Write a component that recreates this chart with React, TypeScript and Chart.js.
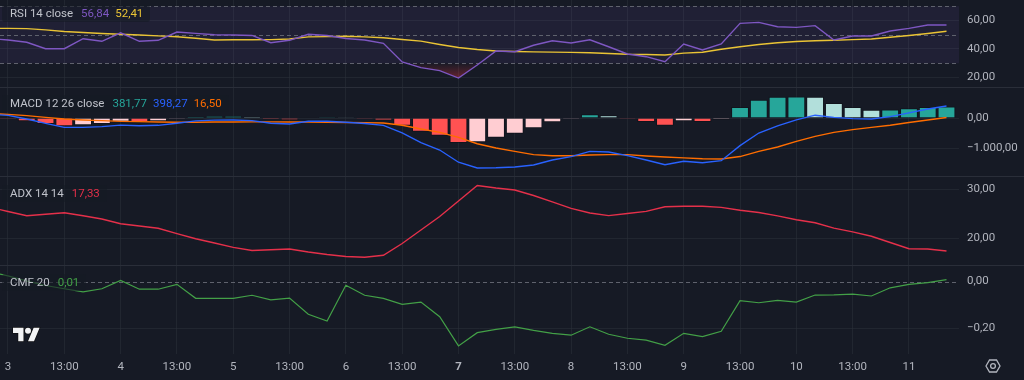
import React, { useEffect, useRef } from 'react';
import { Chart, registerables } from 'chart.js';
Chart.register(...registerables);

// ---------- data (bar index -1 .. 50, 4h bars) ----------
const BAR_START = -1;
const TIME_TICKS = [0, 3, 6, 9, 12, 15, 18, 21, 24, 27, 30, 33, 36, 39, 42, 45, 48];
const TIME_LABELS = ['3', '13:00', '4', '13:00', '5', '13:00', '6', '13:00', '7', '13:00', '8', '13:00', '9', '13:00', '10', '13:00', '11'];
const BOLD_TIME_LABEL = '7';

const RSI = [47.4, 46.3, 44.7, 40.2, 40.2, 47.2, 45.4, 51.4, 45.4, 46.1, 51.9, 51.0, 50.0, 49.8, 49.5, 44.4, 46.1, 50.3, 49.5, 47.4, 46.3, 44.0, 30.9, 26.9, 24.8, 19.6, 28.8, 38.6, 38.1, 42.6, 45.8, 44.2, 46.5, 41.6, 36.5, 34.6, 31.1, 43.5, 39.3, 43.5, 58.0, 58.7, 55.6, 55.2, 56.4, 46.3, 49.1, 49.1, 52.6, 54.5, 56.8, 56.84];
const RSI_MA = [54.5, 54.5, 54.3, 53.4, 52.3, 51.6, 50.9, 50.3, 49.8, 49.2, 48.6, 47.5, 46.3, 46.5, 46.5, 46.6, 47.0, 48.5, 48.7, 49.0, 48.5, 47.9, 46.7, 45.5, 43.2, 41.1, 39.6, 38.6, 38.2, 38.0, 37.8, 37.6, 37.4, 36.8, 36.3, 36.1, 35.8, 37.1, 37.7, 39.8, 41.6, 43.2, 44.4, 45.3, 45.8, 46.1, 46.6, 47.0, 48.2, 49.5, 50.9, 52.41];

const MACD_HIST = [-20, -33, -111, -200, -278, -244, -200, -125, -135, -111, -33, 44, 65, 67, 44, -44, -67, 25, 30, 8, -30, -78, -256, -456, -589, -830, -810, -660, -522, -344, -144, -33, 122, 89, -33, -133, -256, -111, -133, -56, 365, 611, 705, 715, 705, 500, 367, 278, 285, 322, 367, 381.77];
const MACD_LINE = [125, 89, -33, -178, -311, -311, -289, -236, -257, -244, -173, -96, -70, -65, -86, -174, -202, -110, -110, -140, -185, -245, -496, -821, -1067, -1474, -1667, -1660, -1633, -1566, -1400, -1289, -1111, -1133, -1255, -1400, -1556, -1441, -1489, -1423, -920, -500, -262, -63, 94, 22, -22, -33, 45, 172, 302, 398.27];
const MACD_SIGNAL = [145, 122, 78, 22, -33, -67, -89, -111, -122, -133, -140, -140, -135, -132, -130, -130, -135, -135, -140, -148, -155, -167, -240, -365, -478, -644, -857, -1000, -1111, -1222, -1256, -1256, -1233, -1222, -1222, -1267, -1300, -1330, -1356, -1367, -1285, -1111, -967, -778, -611, -478, -389, -311, -240, -150, -65, 16.5];

const ADX = [26.37, 25.44, 24.58, 24.89, 25.20, 24.56, 23.90, 22.94, 22.46, 22.01, 20.90, 19.86, 18.97, 18.09, 17.43, 17.58, 17.74, 17.13, 16.61, 16.20, 16.04, 16.45, 18.87, 21.64, 24.41, 27.60, 30.78, 30.27, 29.86, 28.73, 27.43, 26.10, 25.13, 24.60, 25.03, 25.46, 26.41, 26.51, 26.51, 26.30, 25.69, 25.24, 24.56, 23.76, 23.14, 22.03, 21.25, 20.37, 19.08, 17.80, 17.74, 17.33];

const CMF = [0.041, 0.024, 0.002, -0.017, -0.031, -0.044, -0.031, 0.005, -0.033, -0.033, -0.012, -0.072, -0.072, -0.072, -0.059, -0.079, -0.071, -0.140, -0.169, -0.016, -0.059, -0.072, -0.098, -0.088, -0.151, -0.276, -0.219, -0.205, -0.194, -0.209, -0.222, -0.230, -0.194, -0.226, -0.243, -0.251, -0.273, -0.222, -0.236, -0.213, -0.082, -0.091, -0.081, -0.088, -0.058, -0.057, -0.054, -0.062, -0.027, -0.012, -0.005, 0.008];

// ---------- scales ----------
const X_MIN = -0.426;
const X_MAX = 50.666;
const RSI_MIN = 13.33, RSI_MAX = 74.39, RSI_TICKS = [20, 40, 60];
const RSI_BANDS = [70, 50, 30];
const RSI_UPPER = 70, RSI_LOWER = 30, OVERSOLD_END = 18;
const MACD_MIN = -1933, MACD_MAX = 1000, MACD_TICKS = [0, -1000];
const ADX_MIN = 14.46, ADX_MAX = 32.53, ADX_TICKS = [20, 30];
const CMF_MIN = -0.3105, CMF_MAX = 0.0664, CMF_TICKS = [0, -0.2], CMF_ZERO = 0;

// ---------- style ----------
const BG = '#161A25';
const GRID = 'rgba(42,46,57,0.6)';
const SEP = '#2A2E39';
const TEXT = '#B2B5BE';
const TITLE = '#C0C3CB';
const BAND_LINE = '#5F626D';
const PURPLE = '#7E57C2';
const YELLOW = '#EAC435';
const TEAL = '#26A69A';
const BLUE = '#2962FF';
const ORANGE = '#FF6D00';
const RED = '#E5304A';
const GREEN = '#43A047';
const HIST_UP_GROW = '#26A69A', HIST_UP_FALL = '#B2DFDB', HIST_DN_GROW = '#FFCDD2', HIST_DN_FALL = '#FF5252';
const FONT_FAMILY = 'Roboto, "Noto Sans", sans-serif';
const FONT_SIZE = 11.5;
const AXIS_W = 65;

function fmt(v: number, d = 2): string {
  const neg = v < 0 && Math.abs(v) >= Math.pow(10, -d) / 2;
  const s = Math.abs(v).toFixed(d);
  const [i, f] = s.split('.');
  const ig = i.replace(/\B(?=(\d{3})+(?!\d))/g, '.');
  return (neg ? '\u2212' : '') + ig + (f ? ',' + f : '');
}

const pts = (arr: number[]) => arr.map((y, i) => ({ x: i + BAR_START, y }));
const last = (arr: number[]) => arr[arr.length - 1];

function xAxis(showLabels: boolean): any {
  return {
    type: 'linear',
    min: X_MIN,
    max: X_MAX,
    offset: false,
    grid: { color: GRID, drawTicks: false, offset: false },
    border: { display: false },
    afterBuildTicks: (s: any) => { s.ticks = TIME_TICKS.map((v) => ({ value: v })); },
    afterFit: (s: any) => { s.height = showLabels ? 26 : 0; s.paddingLeft = 0; s.paddingRight = 0; },
    ticks: {
      display: showLabels,
      autoSkip: false,
      maxRotation: 0,
      minRotation: 0,
      padding: 6,
      color: TEXT,
      font: (c: any) => ({
        family: FONT_FAMILY,
        size: FONT_SIZE,
        weight: c.tick && TIME_LABELS[TIME_TICKS.indexOf(c.tick.value)] === BOLD_TIME_LABEL ? 'bold' : 'normal',
      }),
      callback: (_v: any, i: number) => TIME_LABELS[i],
    },
  };
}

function yAxis(min: number, max: number, ticks: number[], gridColor?: any): any {
  return {
    position: 'right',
    min,
    max,
    grid: { color: gridColor || GRID, drawTicks: false },
    border: { display: false },
    afterBuildTicks: (s: any) => { s.ticks = ticks.map((v) => ({ value: v })); },
    afterFit: (s: any) => { s.width = AXIS_W; s.paddingTop = 0; s.paddingBottom = 0; },
    ticks: {
      padding: 8,
      color: TEXT,
      font: { family: FONT_FAMILY, size: FONT_SIZE },
      callback: (v: any) => fmt(Number(v)),
    },
  };
}

function baseOptions(min: number, max: number, ticks: number[], showTime: boolean, gridColor?: any): any {
  return {
    responsive: false,
    maintainAspectRatio: false,
    animation: false,
    devicePixelRatio: 1,
    events: [],
    layout: { padding: 0, autoPadding: false },
    plugins: { legend: { display: false }, tooltip: { enabled: false } },
    scales: { x: xAxis(showTime), y: yAxis(min, max, ticks, gridColor) },
  };
}

const lineDs = (data: number[], color: string, width = 1.4, order = 0): any => ({
  type: 'line',
  data: pts(data),
  borderColor: color,
  borderWidth: width,
  pointRadius: 0,
  tension: 0,
  fill: false,
  order,
});

function hLinePlugin(id: string, values: number[], band?: [number, number]): any {
  return {
    id,
    beforeDatasetsDraw(chart: any) {
      const { ctx, chartArea: a, scales } = chart;
      const y = scales.y;
      ctx.save();
      if (band) {
        const t = y.getPixelForValue(band[0]);
        const b = y.getPixelForValue(band[1]);
        ctx.fillStyle = 'rgba(126,87,194,0.1)';
        ctx.fillRect(a.left, t, a.right - a.left, b - t);
      }
      ctx.strokeStyle = BAND_LINE;
      ctx.lineWidth = 1;
      ctx.setLineDash([4, 3]);
      for (const v of values) {
        const yy = Math.round(y.getPixelForValue(v)) + 0.5;
        ctx.beginPath();
        ctx.moveTo(a.left, yy);
        ctx.lineTo(a.right, yy);
        ctx.stroke();
      }
      ctx.restore();
    },
  };
}

function histColors(h: number[]): string[] {
  return h.map((v, i) => {
    const p = i > 0 ? h[i - 1] : v;
    if (v >= 0) return v >= p ? HIST_UP_GROW : HIST_UP_FALL;
    return v < p ? HIST_DN_FALL : HIST_DN_GROW;
  });
}

function rsiConfig(): any {
  const rsi = lineDs(RSI, PURPLE, 1.4, 0);
  rsi.fill = { target: { value: RSI_LOWER }, above: 'transparent' };
  rsi.backgroundColor = (c: any) => {
    const ch = c.chart;
    if (!ch.chartArea || !ch.scales.y) return 'transparent';
    const y = ch.scales.y;
    const g = ch.ctx.createLinearGradient(0, y.getPixelForValue(RSI_LOWER), 0, y.getPixelForValue(OVERSOLD_END));
    g.addColorStop(0, 'rgba(242,54,69,0.02)');
    g.addColorStop(1, 'rgba(242,54,69,0.42)');
    return g;
  };
  return {
    type: 'line',
    data: { datasets: [lineDs(RSI_MA, YELLOW, 1.4, 1), rsi] },
    options: baseOptions(RSI_MIN, RSI_MAX, RSI_TICKS, false),
    plugins: [hLinePlugin('rsiBands', RSI_BANDS, [RSI_UPPER, RSI_LOWER])],
  };
}

function macdConfig(): any {
  return {
    type: 'bar',
    data: {
      datasets: [
        lineDs(MACD_LINE, BLUE, 1.4, 0),
        lineDs(MACD_SIGNAL, ORANGE, 1.4, 1),
        {
          type: 'bar',
          data: pts(MACD_HIST),
          backgroundColor: histColors(MACD_HIST),
          borderColor: 'rgba(10,12,18,0.45)',
          borderWidth: 1,
          categoryPercentage: 0.95,
          barPercentage: 1,
          order: 2,
        },
      ],
    },
    options: baseOptions(MACD_MIN, MACD_MAX, MACD_TICKS, false),
  };
}

function adxConfig(): any {
  return {
    type: 'line',
    data: { datasets: [lineDs(ADX, RED, 1.4)] },
    options: baseOptions(ADX_MIN, ADX_MAX, ADX_TICKS, false),
  };
}

function cmfConfig(): any {
  const gridColor = (c: any) => (c.tick && c.tick.value === CMF_ZERO ? 'transparent' : GRID);
  return {
    type: 'line',
    data: { datasets: [lineDs(CMF, GREEN, 1.2)] },
    options: baseOptions(CMF_MIN, CMF_MAX, CMF_TICKS, true, gridColor),
    plugins: [hLinePlugin('cmfZero', [CMF_ZERO])],
  };
}

const PANES = [
  { top: 0, height: 87, make: rsiConfig },
  { top: 88, height: 88, make: macdConfig },
  { top: 177, height: 88, make: adxConfig },
  { top: 266, height: 114, make: cmfConfig },
];
const SEPARATORS = [87, 176, 265];

function Legend({ top, title, values }: { top: number; title: string; values: { text: string; color: string }[] }) {
  return (
    <div
      style={{
        position: 'absolute',
        left: 2,
        top,
        height: 17,
        lineHeight: '17px',
        padding: '0 7px 0 8px',
        background: 'rgba(22,26,37,0.6)',
        borderRadius: 3,
        fontFamily: FONT_FAMILY,
        fontSize: FONT_SIZE,
        color: TITLE,
        whiteSpace: 'nowrap',
      }}
    >
      <span>{title}</span>
      {values.map((v, i) => (
        <span key={i} style={{ color: v.color, marginLeft: i === 0 ? 8 : 6 }}>{v.text}</span>
      ))}
    </div>
  );
}

export default function App() {
  const refs = [useRef<HTMLCanvasElement>(null), useRef<HTMLCanvasElement>(null), useRef<HTMLCanvasElement>(null), useRef<HTMLCanvasElement>(null)];

  useEffect(() => {
    const charts = PANES.map((p, i) => new Chart(refs[i].current as HTMLCanvasElement, p.make()));
    return () => charts.forEach((c) => c.destroy());
  }, []);

  return (
    <div style={{ position: 'absolute', left: 0, top: 0, width: 1024, height: 380, background: BG, overflow: 'hidden' }}>
      {PANES.map((p, i) => (
        <canvas
          key={i}
          ref={refs[i]}
          width={1024}
          height={p.height}
          style={{ position: 'absolute', left: 0, top: p.top, width: 1024, height: p.height, display: 'block' }}
        />
      ))}
      {SEPARATORS.map((y) => (
        <div key={y} style={{ position: 'absolute', left: 0, top: y, width: 1024, height: 1, background: SEP }} />
      ))}
      <Legend top={5} title="RSI 14 close" values={[{ text: fmt(last(RSI)), color: PURPLE }, { text: fmt(last(RSI_MA)), color: YELLOW }]} />
      <Legend
        top={95}
        title="MACD 12 26 close"
        values={[
          { text: fmt(last(MACD_HIST)), color: TEAL },
          { text: fmt(last(MACD_LINE)), color: BLUE },
          { text: fmt(last(MACD_SIGNAL)), color: ORANGE },
        ]}
      />
      <Legend top={185} title="ADX 14 14" values={[{ text: fmt(last(ADX)), color: RED }]} />
      <Legend top={274} title="CMF 20" values={[{ text: fmt(last(CMF)), color: GREEN }]} />
      <svg style={{ position: 'absolute', left: 12, top: 327 }} width={29} height={15} viewBox="-1 3 38 20">
        <g fill="#F2F3F5" stroke="#0B0B0B" strokeWidth={1.5} paintOrder="stroke">
          <path d="M14 22H7V11H0V4h14v18zM28 22h-8l7.5-18h8L28 22z" />
          <circle cx="20" cy="8" r="4" />
        </g>
      </svg>
      <svg style={{ position: 'absolute', left: 985, top: 359 }} width={16} height={14} viewBox="0 0 16 14">
        <polygon points="1,7 4.5,1 11.5,1 15,7 11.5,13 4.5,13" fill="none" stroke={TEXT} strokeWidth={1.3} />
        <circle cx="8" cy="7" r="2.4" fill="none" stroke={TEXT} strokeWidth={1.3} />
      </svg>
    </div>
  );
}
